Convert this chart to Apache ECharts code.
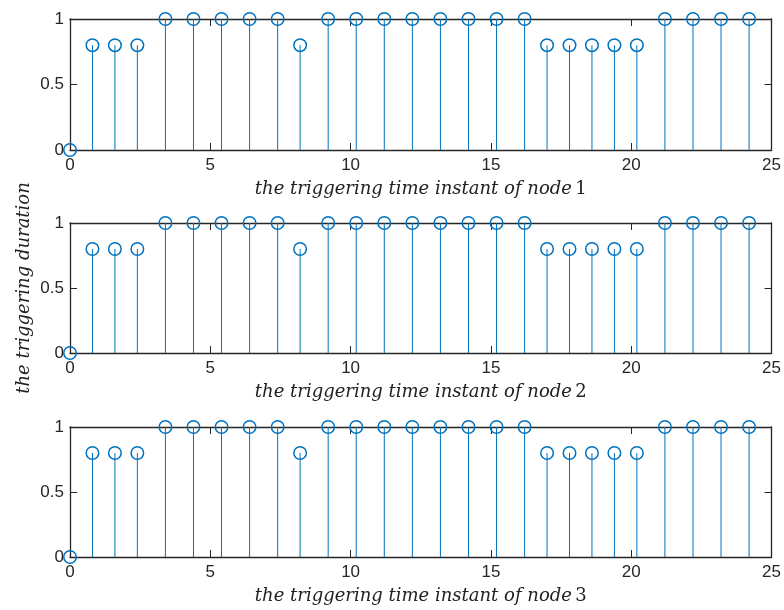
<!DOCTYPE html>
<html>
<head>
<meta charset="utf-8">
<script src="https://cdn.jsdelivr.net/npm/echarts@6/dist/echarts.min.js"></script>
<style>
html,body{margin:0;padding:0;background:#fff;}
#chart{width:784px;height:610px;}
</style>
</head>
<body>
<div id="chart"></div>
<script>
// ---- data ----
const triggerTimes = [0, 0.8, 1.6, 2.4, 3.4, 4.4, 5.4, 6.4, 7.4, 8.2, 9.2, 10.2, 11.2, 12.2, 13.2, 14.2, 15.2, 16.2, 17.0, 17.8, 18.6, 19.4, 20.2, 21.2, 22.2, 23.2, 24.2];
const node1Durations = [0, 0.8, 0.8, 0.8, 1, 1, 1, 1, 1, 0.8, 1, 1, 1, 1, 1, 1, 1, 1, 0.8, 0.8, 0.8, 0.8, 0.8, 1, 1, 1, 1];
const node2Durations = [0, 0.8, 0.8, 0.8, 1, 1, 1, 1, 1, 0.8, 1, 1, 1, 1, 1, 1, 1, 1, 0.8, 0.8, 0.8, 0.8, 0.8, 1, 1, 1, 1];
const node3Durations = [0, 0.8, 0.8, 0.8, 1, 1, 1, 1, 1, 0.8, 1, 1, 1, 1, 1, 1, 1, 1, 0.8, 0.8, 0.8, 0.8, 0.8, 1, 1, 1, 1];
const nodeNumbers = ['1', '2', '3'];
const xLabelText = 'the triggering time instant of node';
const yLabelText = 'the triggering duration';
const xTickValues = [0, 5, 10, 15, 20, 25];
const yTickValues = [0, 0.5, 1];

// ---- chart ----
const allDurations = [node1Durations, node2Durations, node3Durations];
const gridTops = [19, 223, 427];
const gridHeights = [131, 130, 130];
const axisColor = '#262626';
const blue = '#0072BD';
const tickFont = { color: axisColor, fontSize: 17, fontFamily: 'Liberation Sans, Arial, sans-serif' };
const labelSize = 18;

const grids = gridTops.map((t, i) => ({ left: 70, right: 10, top: t, height: gridHeights[i] }));

const xAxes = [];
const yAxes = [];
for (let i = 0; i < 3; i++) {
  xAxes.push({
    type: 'value', gridIndex: i, position: 'bottom',
    min: xTickValues[0], max: xTickValues[xTickValues.length - 1], interval: 5,
    axisLine: { show: true, onZero: false, lineStyle: { color: axisColor, width: 1.3 } },
    axisTick: { show: true, inside: true, length: 7, lineStyle: { color: axisColor, width: 1 } },
    axisLabel: Object.assign({ margin: 7 }, tickFont),
    splitLine: { show: false },
    name: '{i|' + xLabelText + '} {n|' + nodeNumbers[i] + '}',
    nameLocation: 'middle', nameGap: 30,
    nameTextStyle: {
      rich: {
        i: { fontFamily: 'DejaVu Serif', fontStyle: 'italic', fontSize: labelSize, color: '#222' },
        n: { fontFamily: 'DejaVu Serif', fontSize: labelSize, color: '#222' }
      }
    }
  });
  yAxes.push({
    type: 'value', gridIndex: i, position: 'left',
    min: yTickValues[0], max: yTickValues[yTickValues.length - 1], interval: 0.5,
    axisLine: { show: true, onZero: false, lineStyle: { color: axisColor, width: 1.3 } },
    axisTick: { show: true, inside: true, length: 7, lineStyle: { color: axisColor, width: 1 } },
    axisLabel: Object.assign({ margin: 6 }, tickFont),
    splitLine: { show: false }
  });
}
for (let i = 0; i < 3; i++) {
  xAxes.push({
    type: 'value', gridIndex: i, position: 'top',
    min: xTickValues[0], max: xTickValues[xTickValues.length - 1], interval: 5,
    axisLine: { show: true, onZero: false, lineStyle: { color: axisColor, width: 1.3 } },
    axisTick: { show: true, inside: true, length: 7, lineStyle: { color: axisColor, width: 1 } },
    axisLabel: { show: false }, splitLine: { show: false }
  });
  yAxes.push({
    type: 'value', gridIndex: i, position: 'right',
    min: yTickValues[0], max: yTickValues[yTickValues.length - 1], interval: 0.5,
    axisLine: { show: true, onZero: false, lineStyle: { color: axisColor, width: 1.3 } },
    axisTick: { show: true, inside: true, length: 7, lineStyle: { color: axisColor, width: 1 } },
    axisLabel: { show: false }, splitLine: { show: false }
  });
}

const series = [];
allDurations.forEach((vals, i) => {
  const pts = triggerTimes.map((t, k) => [t, vals[k]]);
  series.push({
    type: 'bar', xAxisIndex: i, yAxisIndex: i, data: pts, barWidth: 1,
    itemStyle: { color: blue }, silent: true, animation: false, z: 2
  });
  series.push({
    type: 'scatter', xAxisIndex: i, yAxisIndex: i, data: pts,
    symbol: 'circle', symbolSize: 12.5, clip: false,
    itemStyle: { color: 'rgba(0,0,0,0)', borderColor: blue, borderWidth: 1.5, opacity: 1 },
    animation: false, z: 3
  });
});

const chart = echarts.init(document.getElementById('chart'), null, { renderer: 'canvas' });
chart.setOption({
  backgroundColor: '#fff',
  animation: false,
  grid: grids,
  xAxis: xAxes,
  yAxis: yAxes,
  series: series,
  graphic: [{
    type: 'text', x: 24, y: 288, rotation: Math.PI / 2,
    style: {
      text: yLabelText, align: 'center', verticalAlign: 'middle',
      fontFamily: 'DejaVu Serif', fontStyle: 'italic', fontSize: labelSize, fill: '#222'
    }
  }]
});
</script>
</body>
</html>
